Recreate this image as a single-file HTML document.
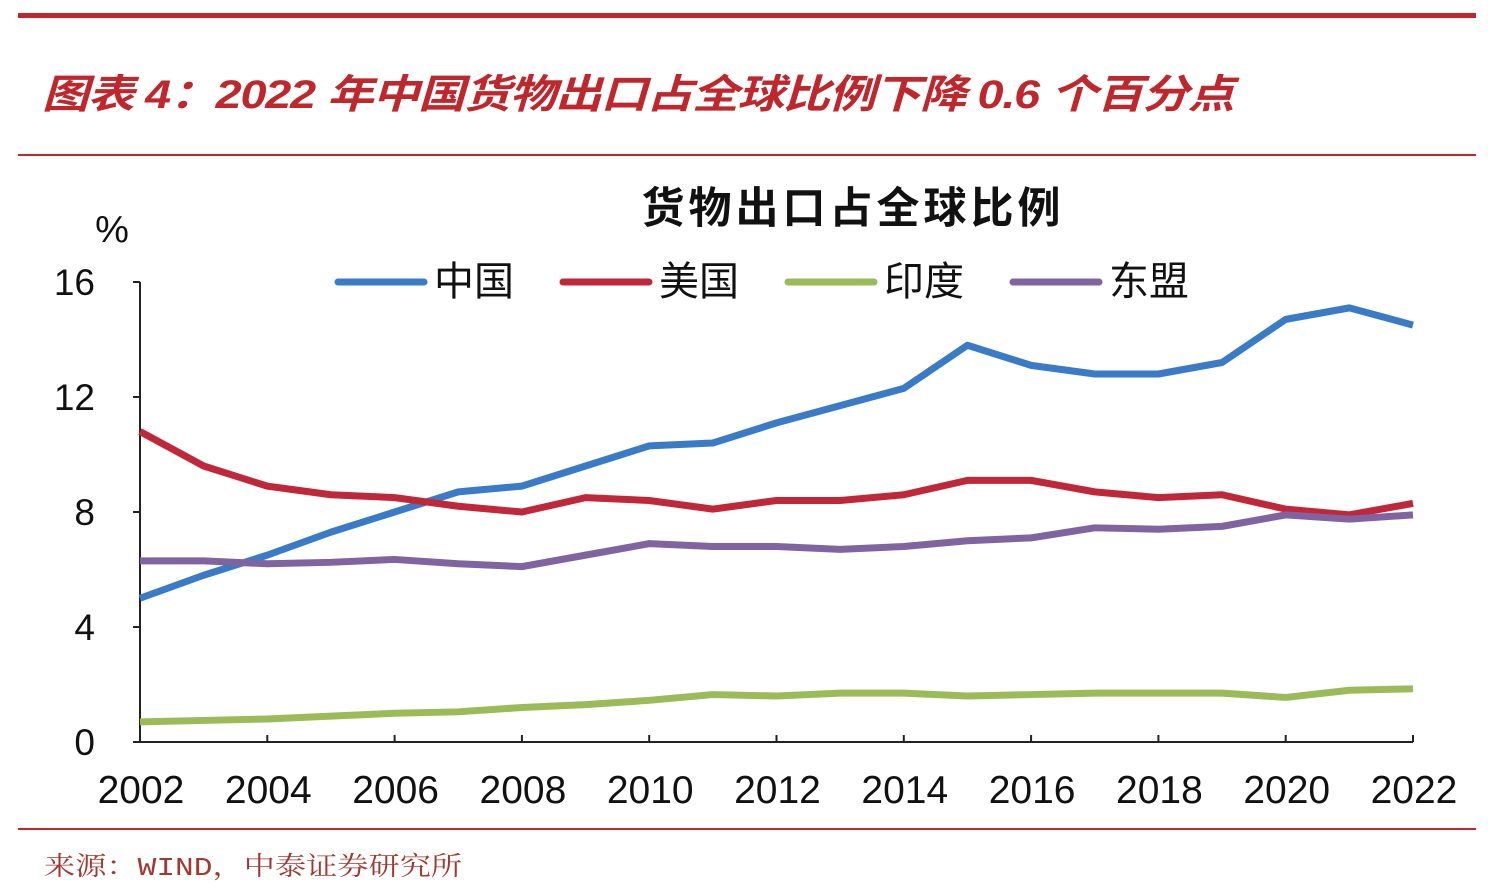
<!DOCTYPE html>
<html><head><meta charset="utf-8"><style>
body{margin:0;width:1488px;height:890px;background:#fff;overflow:hidden;font-family:"Liberation Sans","Noto Sans CJK SC",sans-serif;position:relative}
.abs{position:absolute}
</style></head><body>
<div class="abs" style="left:18px;top:13px;width:1458px;height:5px;background:#c0272d"></div>
<div class="abs" style="left:42px;top:62px;font-size:40px;font-weight:bold;font-style:italic;color:#c0272d;white-space:nowrap;letter-spacing:-1px;transform:scaleX(1.17);transform-origin:0 0">图表 4：2022 年中国货物出口占全球比例下降 0.6 个百分点</div>
<div class="abs" style="left:18px;top:154px;width:1458px;height:2px;background:#c0272d"></div>
<div class="abs" style="left:18px;top:828px;width:1458px;height:2px;background:#c0272d"></div>
<div class="abs" style="left:44px;top:846px;font-size:26px;color:#a0392f;font-family:'Liberation Mono','Noto Serif CJK SC',monospace;white-space:nowrap;transform:scaleX(1.2);transform-origin:0 0">来源：WIND，中泰证券研究所</div>
<svg class="abs" style="left:0;top:0" width="1488" height="890" id="chart">
<text x="853" y="223" text-anchor="middle" font-size="43" font-weight="bold" letter-spacing="4" fill="#111">货物出口占全球比例</text>
<text x="112" y="242" text-anchor="middle" font-size="38" fill="#111">%</text>
</svg>
<script>
const years=[2002,2003,2004,2005,2006,2007,2008,2009,2010,2011,2012,2013,2014,2015,2016,2017,2018,2019,2020,2021,2022];
const china=[5.0,5.8,6.5,7.3,8.0,8.7,8.9,9.6,10.3,10.4,11.1,11.7,12.3,13.8,13.1,12.8,12.8,13.2,14.7,15.1,14.5];
const usa=[10.8,9.6,8.9,8.6,8.5,8.2,8.0,8.5,8.4,8.1,8.4,8.4,8.6,9.1,9.1,8.7,8.5,8.6,8.1,7.9,8.3];
const india=[0.7,0.75,0.8,0.9,1.0,1.05,1.2,1.3,1.45,1.65,1.6,1.7,1.7,1.6,1.65,1.7,1.7,1.7,1.55,1.8,1.85];
const asean=[6.3,6.3,6.2,6.25,6.35,6.2,6.1,6.5,6.9,6.8,6.8,6.7,6.8,7.0,7.1,7.45,7.4,7.5,7.9,7.75,7.9];
const yTicks=[0,4,8,12,16];
const xTicks=[2002,2004,2006,2008,2010,2012,2014,2016,2018,2020,2022];
const seriesNames=["中国","美国","印度","东盟"];
const svg=document.getElementById('chart');const NS='http://www.w3.org/2000/svg';
const X=v=>140+(v-2002)*(1413-140)/20, Y=v=>742-v*(742-282)/16;
function mk(t,a){const e=document.createElementNS(NS,t);for(const k in a)e.setAttribute(k,a[k]);svg.appendChild(e);return e;}
let e=mk('line',{x1:140,y1:282,x2:140,y2:742,stroke:'#222','stroke-width':2});


e=mk('line',{x1:140,y1:742,x2:1413,y2:742,stroke:'#222','stroke-width':2});


yTicks.forEach(v=>{mk('line',{x1:133,x2:140,y1:Y(v),y2:Y(v),stroke:'#222','stroke-width':2});
const t=mk('text',{x:95,y:Y(v)+13,'text-anchor':'end','font-size':37,fill:'#111'});t.textContent=v;

});
xTicks.forEach(v=>{mk('line',{x1:X(v),x2:X(v),y1:742,y2:735,stroke:'#222','stroke-width':2});
const t=mk('text',{x:X(v)+1,y:803,'text-anchor':'middle','font-size':39,fill:'#111'});t.textContent=v;

});
const cols=['#3a7bc8','#c0283a','#9bbb59','#8064a2'];
[china,usa,india,asean].forEach((d,i)=>{const p=mk('polyline',{points:d.map((v,j)=>X(years[j])+','+Y(v)).join(' '),fill:'none',stroke:cols[i],'stroke-width':7,'stroke-linejoin':'round'});


const lx=338+i*225;
const l=mk('line',{x1:lx,x2:lx+86,y1:282,y2:282,stroke:cols[i],'stroke-width':7,'stroke-linecap':'round'});


const t=mk('text',{x:lx+96,y:295,'font-size':40,fill:'#111'});t.textContent=seriesNames[i];

});
</script>
</body></html>
